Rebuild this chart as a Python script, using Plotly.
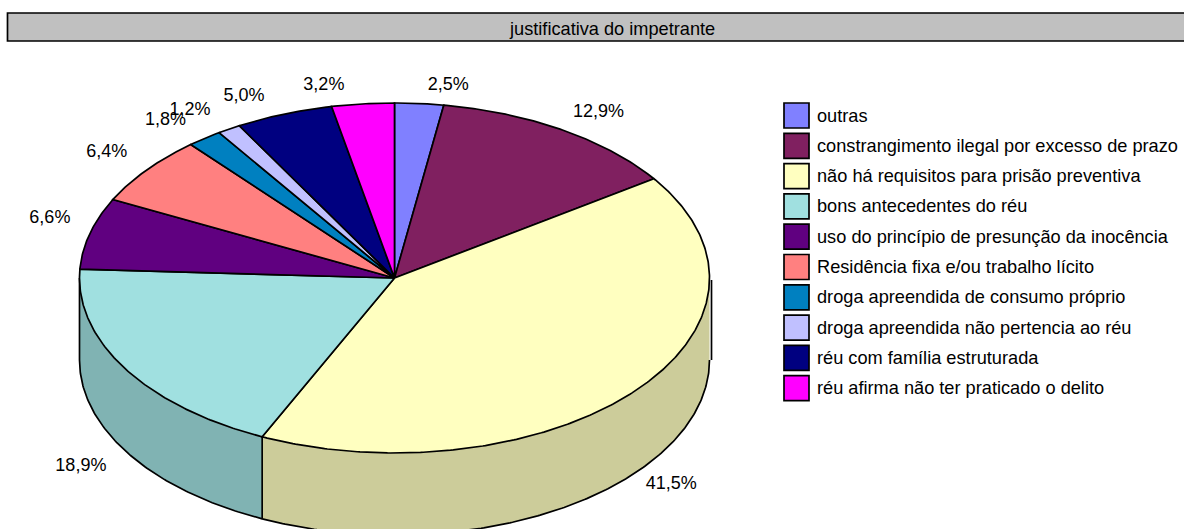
import math
import plotly.graph_objects as go

TITLE = "justificativa do impetrante"
CATEGORIES = [
    "outras",
    "constrangimento ilegal por excesso de prazo",
    "não há requisitos para prisão preventiva",
    "bons antecedentes do réu",
    "uso do princípio de presunção da inocência",
    "Residência fixa e/ou trabalho lícito",
    "droga apreendida de consumo próprio",
    "droga apreendida não pertencia ao réu",
    "réu com família estruturada",
    "réu afirma não ter praticado o delito",
]
VALUES = [2.5, 12.9, 41.5, 18.9, 6.6, 6.4, 1.8, 1.2, 5.0, 3.2]

COLORS = ["#8080FF", "#802060", "#FFFFC0", "#A0E0E0", "#600080",
          "#FF8080", "#0080C0", "#C0C0FF", "#000080", "#FF00FF"]
LABEL_NUDGE = [(29, -18), (36, -17), (36, 94), (-44, 98), (-40, -15),
               (-40, -17), (-39, -18), (-39, -19), (-40, -18), (-39, -18)]

CX, CY, RX, RY, DEPTH = 394.5, 278, 315, 175, 82
FONT = "Liberation Sans"
LABEL_SIZE = 18
LEGEND_SIZE = 18.2
TITLE_SIZE = 18.2
LW = 1.7


def shade(hex_color, factor=0.8):
    r, g, b = (int(hex_color[i:i + 2], 16) for i in (1, 3, 5))
    return f"rgb({r * factor:.0f},{g * factor:.0f},{b * factor:.0f})"


def pt(deg, dy=0.0):
    a = math.radians(deg)
    return CX + RX * math.sin(a), CY - RY * math.cos(a) + dy


def arc(a0, a1, dy=0.0):
    n = max(2, int(abs(a1 - a0)) * 2)
    return [pt(a0 + (a1 - a0) * i / n, dy) for i in range(n + 1)]


def add_poly(fig, pts, fill):
    fig.add_trace(go.Scatter(
        x=[p[0] for p in pts], y=[p[1] for p in pts], mode="lines",
        fill="toself", fillcolor=fill,
        line=dict(color="black", width=LW),
        hoverinfo="skip", showlegend=False))


def add_fill(fig, pts, fill):
    fig.add_trace(go.Scatter(
        x=[p[0] for p in pts], y=[p[1] for p in pts], mode="none",
        fill="toself", fillcolor=fill, hoverinfo="skip", showlegend=False))


def add_line(fig, pts):
    fig.add_trace(go.Scatter(
        x=[p[0] for p in pts], y=[p[1] for p in pts], mode="lines",
        line=dict(color="black", width=LW), hoverinfo="skip", showlegend=False))


fig = go.Figure()
total = sum(VALUES)
bounds = [0.0]
for v in VALUES:
    bounds.append(bounds[-1] + v / total * 360)

# Visible side walls: only the front half of the ellipse
for i in range(len(VALUES)):
    a0, a1 = max(bounds[i], 90), min(bounds[i + 1], 270)
    if a1 > a0:
        add_fill(fig, arc(a0, a1) + arc(a1, a0, DEPTH), shade(COLORS[i]))
        add_line(fig, arc(a0, a1, DEPTH))
        for a in (a0, a1):
            if a > 90:
                add_line(fig, [pt(a), pt(a, DEPTH)])

# Top faces
for i in range(len(VALUES)):
    add_poly(fig, [(CX, CY)] + arc(bounds[i], bounds[i + 1]) + [(CX, CY)], COLORS[i])

# Offset edge at the right of the wall
right_x, right_y = pt(90)
add_line(fig, [(right_x + 2, right_y + 2), (right_x + 2, right_y + DEPTH)])

# Percentage labels
lx, ly, lt = [], [], []
for i, v in enumerate(VALUES):
    x, y = pt((bounds[i] + bounds[i + 1]) / 2)
    lx.append(x + LABEL_NUDGE[i][0])
    ly.append(y + LABEL_NUDGE[i][1])
    lt.append(f"{v:.1f}%".replace(".", ","))
fig.add_trace(go.Scatter(x=lx, y=ly, text=lt, mode="text", textposition="middle center",
                         textfont=dict(family=FONT, size=LABEL_SIZE, color="black"),
                         hoverinfo="skip", showlegend=False))

# Legend
ROW0, ROW_STEP = 115.5, 30.3
rows = [ROW0 + ROW_STEP * i for i in range(len(CATEGORIES))]
fig.add_trace(go.Scatter(x=[796.5] * len(rows), y=rows, mode="markers",
                         marker=dict(symbol="square", size=25, color=COLORS,
                                     line=dict(color="black", width=LW)),
                         hoverinfo="skip", showlegend=False))
for name, y in zip(CATEGORIES, rows):
    fig.add_annotation(x=817, y=y, text=name, showarrow=False, xanchor="left",
                       yanchor="middle", xshift=-2,
                       font=dict(family=FONT, size=LEGEND_SIZE, color="black"))

# Title bar
fig.add_shape(type="rect", x0=7.5, x1=1200, y0=13, y1=41, fillcolor="#C0C0C0",
              line=dict(color="black", width=LW), layer="below")
fig.add_annotation(x=612, y=29, text=TITLE, showarrow=False,
                   font=dict(family=FONT, size=TITLE_SIZE, color="black"))

fig.update_layout(
    width=1184, height=529, margin=dict(l=0, r=0, t=0, b=0),
    paper_bgcolor="white", plot_bgcolor="white", showlegend=False,
    xaxis=dict(range=[0, 1184], visible=False, fixedrange=True),
    yaxis=dict(range=[529, 0], visible=False, fixedrange=True),
)
fig.write_html("out.html", config={"displayModeBar": False},
               post_script="document.body.style.margin='0';document.body.style.overflow='hidden';")
